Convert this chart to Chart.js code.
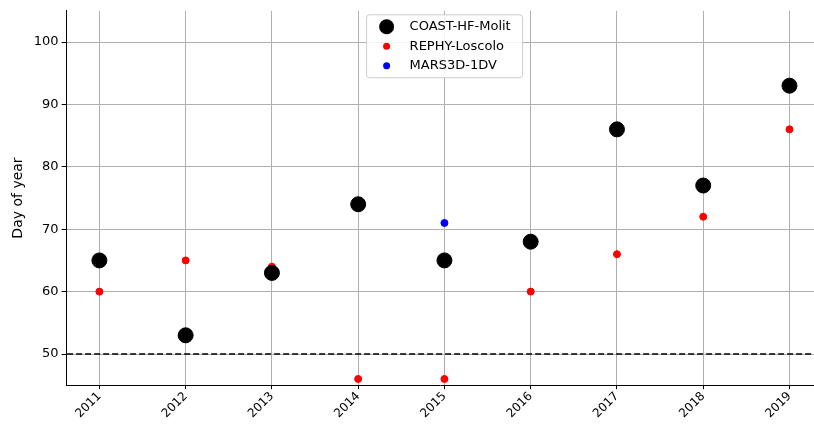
<!DOCTYPE html>
<html>
<head>
<script src="https://cdn.jsdelivr.net/npm/chart.js@4/dist/chart.umd.min.js"></script>
<style>
body { margin: 0; overflow: hidden; background: #fff; }
</style>
</head>
<body>
<canvas id="c" width="823" height="426" style="width:823px;height:426px"></canvas>
<script>
var years = [2011, 2012, 2013, 2014, 2015, 2016, 2017, 2018, 2019];
var coastValues = [65, 53, 63, 74, 65, 68, 86, 77, 93];
var rephyValues = [60, 65, 64, 46, 46, 60, 66, 72, 86];
var marsYears = [2015];
var marsValues = [71];
var yTicks = [50, 60, 70, 80, 90, 100];
var threshold = 50;

function toPoints(xs, ys) {
    return xs.map(function (x, i) { return { x: x, y: ys[i] }; });
}

// legend drawn inside the plot, matplotlib style
var boxLegend = {
    id: 'boxLegend',
    afterDraw: function (chart) {
        var ctx = chart.ctx;
        var a = chart.chartArea;
        var x0 = a.left + 300, y0 = a.top + 4, w = 156, h = 63;
        ctx.save();
        ctx.fillStyle = 'rgba(255,255,255,0.85)';
        ctx.strokeStyle = '#ccc';
        ctx.lineWidth = 1;
        ctx.beginPath();
        ctx.roundRect(x0, y0, w, h, 3);
        ctx.fill();
        ctx.stroke();
        ctx.font = '13px "DejaVu Sans"';
        ctx.textBaseline = 'middle';
        chart.data.datasets.forEach(function (ds, i) {
            if (!ds.label) return;
            var cy = y0 + 12 + i * 19.5;
            ctx.fillStyle = ds.backgroundColor;
            ctx.beginPath();
            ctx.arc(x0 + 20, cy, ds.pointRadius, 0, Math.PI * 2);
            ctx.fill();
            ctx.fillStyle = '#000';
            ctx.fillText(ds.label, x0 + 43, cy);
        });
        ctx.restore();
    }
};

new Chart(document.getElementById('c'), {
    type: 'scatter',
    data: {
        datasets: [
            { label: 'COAST-HF-Molit', data: toPoints(years, coastValues), backgroundColor: '#000', borderColor: '#000', pointRadius: 7.5 },
            { label: 'REPHY-Loscolo', data: toPoints(years, rephyValues), backgroundColor: '#ff0000', borderColor: '#ff0000', pointRadius: 3.5 },
            { label: 'MARS3D-1DV', data: toPoints(marsYears, marsValues), backgroundColor: '#0000ff', borderColor: '#0000ff', pointRadius: 3.5 },
            { type: 'line', label: '', data: [{ x: 2010, y: threshold }, { x: 2020, y: threshold }], borderColor: '#000', borderWidth: 1.5, borderDash: [6, 3], pointRadius: 0, order: 5 }
        ]
    },
    options: {
        responsive: false,
        animation: false,
        layout: { padding: { top: 4, left: 6, right: 1, bottom: 5 } },
        plugins: { legend: { display: false }, tooltip: { enabled: false } },
        scales: {
            x: {
                type: 'linear', min: 2010.62, max: 2019.29,
                afterBuildTicks: function (s) { s.ticks = years.map(function (v) { return { value: v }; }); },
                ticks: { color: '#000', padding: 0, font: { size: 12, family: 'DejaVu Sans' }, maxRotation: 45, minRotation: 45, callback: function (v) { return String(v); } },
                grid: { color: '#b0b0b0', tickColor: '#000', tickLength: 4 },
                border: { color: '#000' }
            },
            y: {
                min: 45, max: 105,
                afterBuildTicks: function (s) { s.ticks = yTicks.map(function (v) { return { value: v }; }); },
                ticks: { color: '#000', font: { size: 13, family: 'DejaVu Sans' } },
                grid: { color: '#b0b0b0', tickColor: '#000', tickLength: 5 },
                border: { color: '#000' },
                title: { display: true, text: 'Day of year', color: '#000', font: { size: 14, family: 'DejaVu Sans' } }
            }
        }
    },
    plugins: [boxLegend]
});
</script>
</body>
</html>
